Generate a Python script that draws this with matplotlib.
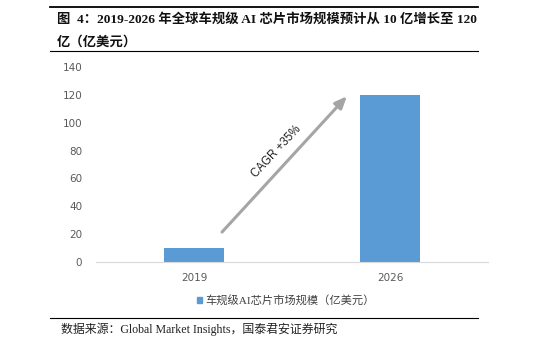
import matplotlib
matplotlib.use("Agg")
import matplotlib.pyplot as plt
from matplotlib.lines import Line2D
from matplotlib.patches import Rectangle

years = ["2019", "2026"]
market_size = [10, 120]
y_ticks = [0, 20, 40, 60, 80, 100, 120, 140]
title_line1 = "图  4：2019-2026 年全球车规级 AI 芯片市场规模预计从 10 亿增长至 120"
title_line2 = "亿（亿美元）"
legend_label = "车规级AI芯片市场规模（亿美元）"
source_text = "数据来源：Global Market Insights，国泰君安证券研究"
cagr_text = "CAGR +35%"

W, H = 557, 343
fig = plt.figure(figsize=(W / 100, H / 100), dpi=100)

def fx(px):
    return px / W

def fy(py):
    return 1 - py / H

serif_cjk = ["Liberation Serif", "Noto Sans CJK SC"]

# header and footer rules
fig.add_artist(Line2D([fx(50), fx(478)], [fy(7), fy(7)], color="black", lw=1.3))
fig.add_artist(Line2D([fx(50), fx(478)], [fy(51), fy(51)], color="black", lw=0.8))
fig.add_artist(Line2D([fx(50), fx(478)], [fy(318), fy(318)], color="black", lw=0.8))

fig.text(fx(57), fy(19), title_line1, family=serif_cjk, fontweight="bold",
         fontsize=9.6, va="center", ha="left", color="#111111")
fig.text(fx(57), fy(42), title_line2, family=serif_cjk, fontweight="bold",
         fontsize=9.6, va="center", ha="left", color="#111111")
fig.text(fx(61), fy(329), source_text, family=serif_cjk, fontsize=8.6,
         va="center", ha="left", color="#222222")

ax = fig.add_axes([fx(96), fy(262), fx(488) - fx(96), fy(67) - fy(262)])
x = list(range(len(years)))
ax.bar(x, market_size, width=0.31, color="#5B9BD5", zorder=2)
ax.set_xlim(-0.5, 1.5)
ax.set_ylim(0, 140)
ax.set_yticks(y_ticks)
ax.set_xticks(x)
ax.set_xticklabels(years)
for s in ["top", "right", "left"]:
    ax.spines[s].set_visible(False)
ax.spines["bottom"].set_color("#D9D9D9")
ax.tick_params(axis="both", length=0, labelsize=7.5, colors="#595959")
ax.tick_params(axis="y", pad=10)
ax.tick_params(axis="x", pad=8)

# growth arrow
ax.annotate("", xy=(0.78, 119), xytext=(0.143, 21.5),
            arrowprops=dict(arrowstyle="-|>,head_length=0.7,head_width=0.3",
                            color="#A5A5A5", lw=2.2, shrinkA=0, shrinkB=0))
ax.text(0.42, 79, cagr_text, rotation=47, ha="center", va="center",
        fontsize=8.3, color="#222222", family="Liberation Sans")

# legend
fig.add_artist(Rectangle((fx(197), fy(303)), fx(5), fy(297) - fy(303),
                         color="#5B9BD5", transform=fig.transFigure))
fig.text(fx(205), fy(300), legend_label, family=serif_cjk, fontsize=8.1,
         va="center", ha="left", color="#404040")

fig.savefig("out.png", dpi=100)
